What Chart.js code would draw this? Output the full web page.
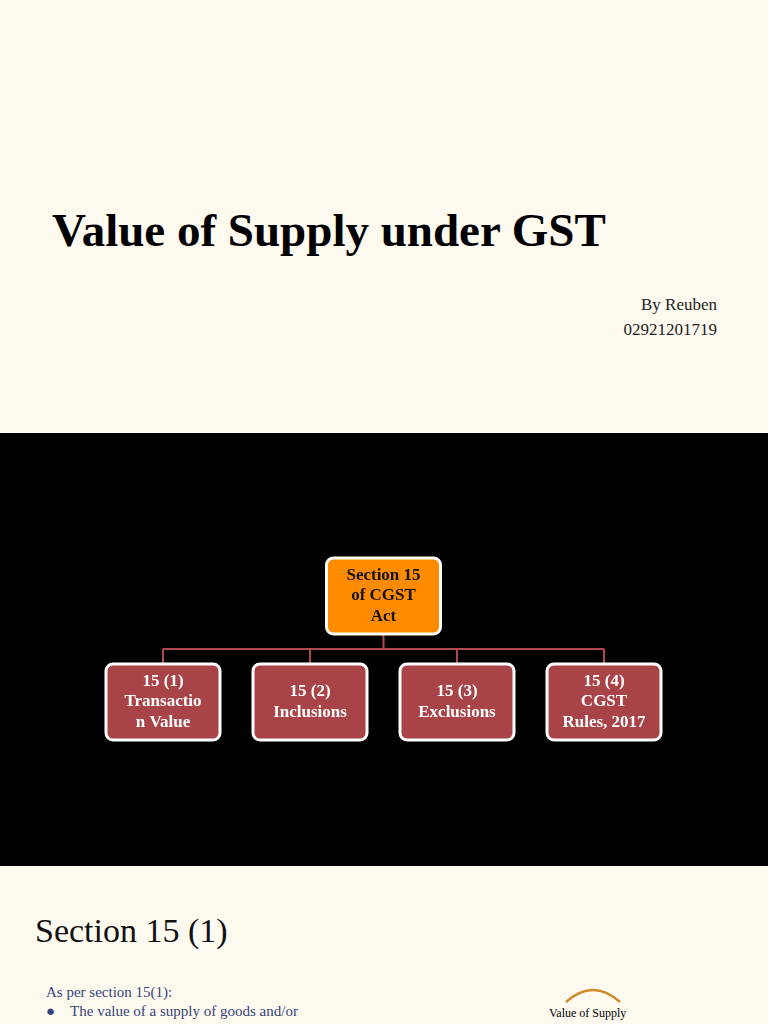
<!DOCTYPE html>
<html><head><meta charset="utf-8">
<script src="https://cdn.jsdelivr.net/npm/chart.js@4"></script>
<style>
body{margin:0;width:768px;height:1024px;overflow:hidden;background:#fffaf0;font-family:"Liberation Serif","DejaVu Serif",serif;position:relative}
.a{position:absolute;white-space:nowrap}
#band{position:absolute;left:0;top:433px;width:768px;height:433px;background:#000}
</style></head><body>
<div class="a" style="left:52px;top:203px;font-size:47px;font-weight:bold;color:#000">Value of Supply under GST</div>
<div class="a" style="right:51px;top:292px;font-size:17px;text-align:right;line-height:25px;color:#222">By Reuben<br>02921201719</div>
<div id="band"><canvas id="c" width="768" height="433"></canvas></div>
<div class="a" style="left:35px;top:912px;font-size:34px;color:#111">Section 15 (1)</div>
<div class="a" style="left:46px;top:984px;font-size:15px;color:#34457a">As per section 15(1):</div>
<div class="a" style="left:46px;top:1003px;font-size:15px;color:#34457a">●&nbsp;&nbsp;&nbsp;&nbsp;The value of a supply of goods and/or</div>
<svg class="a" style="left:562px;top:984px" width="62" height="20"><path d="M4 18 Q31 -6 58 18" fill="none" stroke="#d08a2a" stroke-width="2.5"/></svg>
<div class="a" style="left:549px;top:1006px;font-size:12px;color:#000">Value of Supply</div>
<script>
const rootLabel = ["Section 15","of CGST","Act"];
const childLabels = [["15 (1)","Transactio","n Value"],["15 (2)","Inclusions"],["15 (3)","Exclusions"],["15 (4)","CGST","Rules, 2017"]];
const childIndex = [0,1,2,3];
const rootIndex = [1.5];
const levels = {root:0, child:1};

const boxPlugin = {
  id:'boxes',
  afterDatasetsDraw(chart){
    const ctx = chart.ctx;
    const r = chart.getDatasetMeta(0).data[0];
    const kids = chart.getDatasetMeta(1).data;
    const w=114,h=76, busY = (r.y + kids[0].y)/2;
    ctx.save();
    ctx.strokeStyle='#b04a50'; ctx.lineWidth=2;
    ctx.beginPath();
    ctx.moveTo(r.x, r.y+h/2); ctx.lineTo(r.x, busY);
    ctx.moveTo(kids[0].x, busY); ctx.lineTo(kids[kids.length-1].x, busY);
    kids.forEach(k=>{ctx.moveTo(k.x,busY); ctx.lineTo(k.x,k.y-h/2);});
    ctx.stroke();
    const box=(p,fill,color,lines)=>{
      ctx.beginPath(); ctx.roundRect(p.x-w/2,p.y-h/2,w,h,7);
      ctx.fillStyle=fill; ctx.fill();
      ctx.lineWidth=3; ctx.strokeStyle='#fff'; ctx.stroke();
      ctx.fillStyle=color; ctx.font='bold 17px "Liberation Serif", serif';
      ctx.textAlign='center'; ctx.textBaseline='middle';
      const lh=20.5, y0=p.y-(lines.length-1)*lh/2;
      lines.forEach((t,i)=>ctx.fillText(t,p.x,y0+i*lh));
    };
    box(r,'#ff8c00','#111',rootLabel);
    kids.forEach((k,i)=>box(k,'#a84448','#fff',childLabels[i]));
    ctx.restore();
  }
};

new Chart(document.getElementById('c'),{
  type:'scatter',
  data:{datasets:[
    {data:rootIndex.map(x=>({x,y:levels.root})),pointRadius:0},
    {data:childIndex.map(x=>({x,y:levels.child})),pointRadius:0}
  ]},
  options:{responsive:false,animation:false,events:[],layout:{padding:0},
    plugins:{legend:{display:false},tooltip:{enabled:false}},
    scales:{
      x:{type:'linear',display:false,min:-163/147,max:(768-163)/147},
      y:{type:'linear',display:false,reverse:true,min:-163/106,max:(433-163)/106}
    }},
  plugins:[boxPlugin]
});
</script>
</body></html>
